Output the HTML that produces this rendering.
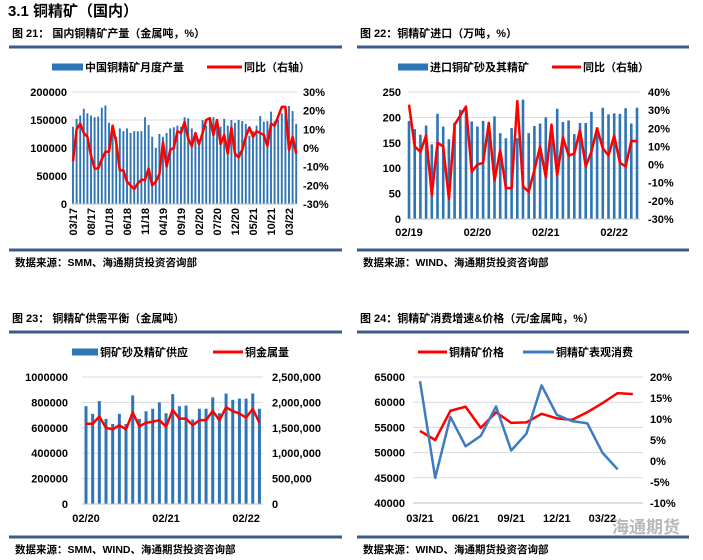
<!DOCTYPE html>
<html><head><meta charset="utf-8"><style>
body{margin:0;background:#fff;width:703px;height:560px;overflow:hidden}
svg{display:block;font-family:"Liberation Sans","Noto Sans CJK SC",sans-serif}
</style></head><body>
<svg id="s" width="703" height="560" viewBox="0 0 703 560">
<text x="8" y="16" font-size="15" font-weight="bold" fill="#000">3.1 铜精矿（国内）</text>
</svg>
<script>
// ---- chart 21 data ----
const c1Labels=["03/17","08/17","01/18","06/18","11/18","04/19","09/19","02/20","07/20","12/20","05/21","10/21","03/22"];
const c1Bars=[138,152,158,170,162,158,155,156,172,176,145,135,120,135,130,135,127,130,130,130,155,141,120,100,125,120,127,135,137,140,138,155,153,135,120,108,150,140,150,155,148,138,152,140,150,145,150,148,143,122,130,140,157,147,148,165,148,150,162,172,175,166,143];
const c1Line=[-7,10,13,8,6,-4,-11,-11,-6,-2,-2,12,3,-12,-12,-18,-20,-22,-19,-17,-17,-11,-20,-18,-14,3,-10,-1,0,9,8,14,5,1,8,2,8,15,16,7,15,2,7,-3,11,-3,-5,-1,6,11,6,9,8,7,1,13,12,17,22,22,-1,6,-3];
// ---- chart 22 data ----
const c2Labels=["02/19","02/20","02/21","02/22"];
const c2Bars=[193,177,166,184,147,207,182,157,190,215,216,192,182,193,178,202,169,159,179,159,235,169,183,188,200,180,217,191,194,167,189,189,211,180,219,206,208,207,218,188,219];
const c2Line=[33,10,7,16,-17,12,10,-19,22,27,32,-4,0,1,23,-9,8,-13,-13,35,-12,-15,-3,10,-7,22,-6,15,5,6,19,-1,7,20,9,5,16,1,-1,13,13];
// ---- chart 23 data ----
const c3Labels=["02/20","02/21","02/22"];
const c3Bars=[770,710,810,670,630,710,630,855,670,730,750,800,715,865,770,775,665,750,750,840,715,870,820,830,830,870,750];
const c3Line=[1.58,1.58,1.72,1.50,1.47,1.55,1.47,1.80,1.53,1.60,1.62,1.65,1.52,1.85,1.68,1.68,1.55,1.65,1.65,1.83,1.65,1.90,1.83,1.78,1.70,1.87,1.60];
// ---- chart 24 data ----
const c4Labels=["03/21","06/21","09/21","12/21","03/22"];
const c4Price=[54300,52500,58300,59100,54900,58000,55900,56000,57700,56800,56500,58000,59800,61800,61600];
const c4Cons=[19,-4,10.5,3.5,6,13,2.5,6.5,18,11,9.5,9,2,-2];

const NS="http://www.w3.org/2000/svg", S=document.getElementById('s');
function el(tag,a,txt){const e=document.createElementNS(NS,tag);for(const k in a)e.setAttribute(k,a[k]);if(txt!==undefined)e.textContent=txt;S.appendChild(e);return e;}
const BLUE="#2e75b6",RED="#ff0000",HDR="#3c5b8c";
function frame(x0,x1,ty,title,ly,by,src,name){
  let t=el('text',{x:x0+3,y:ty,'font-size':11,'font-weight':'bold'},title);
  
  let l=el('rect',{x:x0,y:ly-1.5,width:x1-x0,height:3,fill:HDR});
  
  let b=el('rect',{x:x0,y:by-1.5,width:x1-x0,height:3,fill:HDR});
  
  let s=el('text',{x:x0+6,y:by+16,'font-size':10.5,'font-weight':'bold'},src);
  
}
function legend(items,y,name){
  items.forEach((it,i)=>{
    let m;
    if(it.type==='bar') m=el('rect',{x:it.x,y:y-3.5,width:it.w,height:7,fill:BLUE});
    else m=el('line',{x1:it.x,x2:it.x+it.w,y1:y,y2:y,stroke:it.color,'stroke-width':3});
    
    let t=el('text',{x:it.x+it.w+2,y:y+4,'font-size':11,'font-weight':'bold'},it.label);
    
  });
}
function axis(x,y,txt,anchor,name){
  let t=el('text',{x:x,y:y+4,'font-size':11,'font-weight':'bold','text-anchor':anchor},txt);
  return t;
}
function lin(d0,d1,p0,p1){return v=>p0+(v-d0)*(p1-p0)/(d1-d0);}
function grid(X0,X1,yl,ticks,name){ticks.forEach(v=>{let g=el('line',{x1:X0,x2:X1,y1:yl(v),y2:yl(v),stroke:'#d9d9d9','stroke-width':1});});}
function bars(vals,xs,yl,w,name){vals.forEach((v,i)=>{let r=el('rect',{x:xs(i)-w/2,y:yl(v),width:w,height:yl(0)-yl(v),fill:BLUE});});}
function line(vals,xs,yr,color,wd,name){let p=el('polyline',{points:vals.map((v,i)=>xs(i)+','+yr(v)).join(' '),fill:'none',stroke:color,'stroke-width':wd,'stroke-linejoin':'round'});}
function baseAxis(X0,X1,y,name){let a=el('line',{x1:X0,x2:X1,y1:y,y2:y,stroke:'#bfbfbf'});}

// ===== Chart 21 =====
frame(9,342,37,"图 21：  国内铜精矿产量（金属吨，%）",47,250,"数据来源：SMM、海通期货投资咨询部","fig21");
legend([{type:'bar',x:52,w:31,label:"中国铜精矿月度产量"},{type:'line',x:207,w:35,color:RED,label:"同比（右轴）"}],67,"fig21");
{const X0=72,X1=297,yl=lin(0,200,204,92),yr=lin(-30,30,204,92),xs=i=>X0+1+i*3.6;
grid(X0,X1,yl,[50,100,150,200],"fig21");
[0,50000,100000,150000,200000].forEach(v=>axis(67,yl(v/1000),String(v),'end','fig21-left-tick'));
[-30,-20,-10,0,10,20,30].forEach(v=>axis(303,yr(v),v+'%','start','fig21-right-tick'));
bars(c1Bars,xs,yl,1.9,"fig21");
baseAxis(X0,X1,204,"fig21");
line(c1Line,xs,yr,RED,2.5,"fig21-yoy-line");
c1Labels.forEach((l,k)=>{let x=xs(k*5);let t=el('text',{x:0,y:0,'font-size':11,'font-weight':'bold','text-anchor':'end',transform:`translate(${x+4},208) rotate(-90)`},l);});}

// ===== Chart 22 =====
frame(357,689,37,"图 22：铜精矿进口（万吨，%）",47,250,"数据来源：WIND、海通期货投资咨询部","fig22");
legend([{type:'bar',x:398,w:30,label:"进口铜矿砂及其精矿"},{type:'line',x:552,w:29,color:RED,label:"同比（右轴）"}],67,"fig22");
{const X0=408,X1=640,yl=lin(0,250,219,92),yr=lin(-30,40,219,92),xs=i=>409+i*5.7;
grid(X0,X1,yl,[50,100,150,200,250],"fig22");
[0,50,100,150,200,250].forEach(v=>axis(401,yl(v),String(v),'end','fig22-left-tick'));
[-30,-20,-10,0,10,20,30,40].forEach(v=>axis(648,yr(v),v+'%','start','fig22-right-tick'));
bars(c2Bars,xs,yl,2.6,"fig22");
baseAxis(X0,X1,219,"fig22");
line(c2Line,xs,yr,RED,2.5,"fig22-yoy-line");
c2Labels.forEach((l,k)=>axis(xs(k*12),232,l,'middle','fig22-x-label'));}

// ===== Chart 23 =====
frame(9,342,322,"图 23：  铜精矿供需平衡（金属吨）",332,537,"数据来源：SMM、WIND、海通期货投资咨询部","fig23");
legend([{type:'bar',x:72,w:26,label:"铜矿砂及精矿供应"},{type:'line',x:213,w:30,color:RED,label:"铜金属量"}],352,"fig23");
{const X0=82,X1=263,yl=lin(0,1000,504,377),yr=lin(0,2.5,504,377),xs=i=>86+i*6.67;
grid(X0,X1,yl,[200,400,600,800,1000],"fig23");
[0,200000,400000,600000,800000,1000000].forEach(v=>axis(68,yl(v/1000),String(v),'end','fig23-left-tick'));
["0","500,000","1,000,000","1,500,000","2,000,000","2,500,000"].forEach((t,k)=>axis(272,yr(k*0.5),t,'start','fig23-right-tick'));
bars(c3Bars,xs,yl,3,"fig23");
baseAxis(X0,X1,504,"fig23");
line(c3Line,xs,yr,RED,2.5,"fig23-metal-line");
c3Labels.forEach((l,k)=>axis(xs(k*12),518,l,'middle','fig23-x-label'));}

// ===== Chart 24 =====
frame(357,689,322,"图 24：铜精矿消费增速&价格（元/金属吨，%）",332,537,"数据来源：WIND、海通期货投资咨询部","fig24");
legend([{type:'line',x:418,w:29,color:RED,label:"铜精矿价格"},{type:'line',x:523,w:31,color:"#3d7cc0",label:"铜精矿表观消费"}],352,"fig24");
{const X0=413,X1=643,yl=lin(40000,65000,503,377),yr=lin(-10,20,503,377),xs=i=>420+i*15.2;
grid(X0,X1,yl,[45000,50000,55000,60000,65000],"fig24");
[40000,45000,50000,55000,60000,65000].forEach(v=>axis(405,yl(v),String(v),'end','fig24-left-tick'));
[-10,-5,0,5,10,15,20].forEach(v=>axis(650,yr(v),v+'%','start','fig24-right-tick'));
baseAxis(X0,X1,503,"fig24");
line(c4Price,xs,yl,RED,2.5,"fig24-price-line");
line(c4Cons,xs,yr,"#3d7cc0",2.5,"fig24-consumption-line");
c4Labels.forEach((l,k)=>axis(xs(k*3),518,l,'middle','fig24-x-label'));}
let wm=el('text',{x:612,y:533,'font-size':17,fill:'#b8b8b8','font-weight':'bold'},"海通期货");


</script>
</body></html>
